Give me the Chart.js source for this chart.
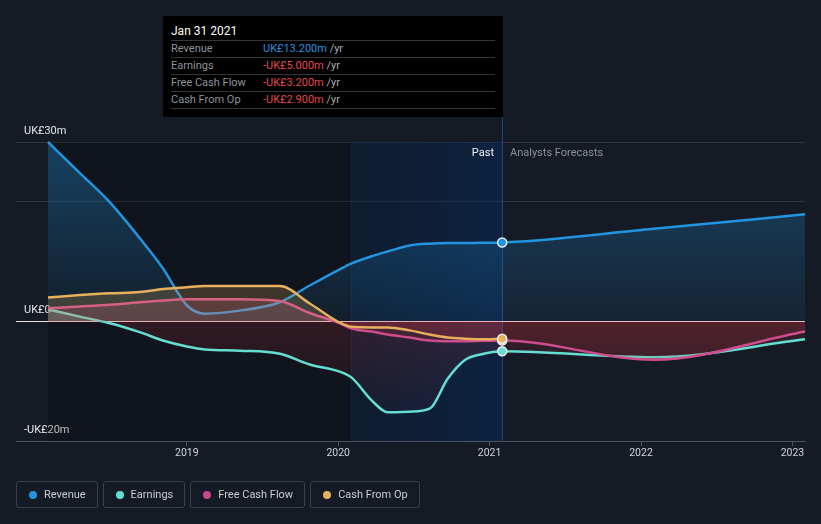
<!DOCTYPE html>
<html>
<head>
<meta charset="utf-8">
<script src="https://cdn.jsdelivr.net/npm/chart.js@4/dist/chart.umd.min.js"></script>
<style>
html,body{margin:0;padding:0;background:#151b25;width:821px;height:524px;overflow:hidden;font-family:Roboto,"Noto Sans",sans-serif;}
#wrap{position:relative;width:821px;height:524px;}
#c{position:absolute;left:0;top:0;}
#tip{position:absolute;left:163px;top:16px;width:340px;height:101px;background:#000;}
#tip .title{position:absolute;left:8px;top:8px;font-size:12px;line-height:14px;color:#fff;}
#tip .row{position:absolute;left:8px;width:324px;height:16px;border-top:1px solid #353535;font-size:11px;line-height:16px;}
#tip .row .lab{position:absolute;left:0;color:#8e939b;}
#tip .row .val{position:absolute;left:92px;}
#tip .row .unit{color:#a9adb3;}
#tip .end{position:absolute;left:8px;width:324px;top:92px;border-top:1px solid #353535;}
.blue{color:#2394df}.red{color:#e5484d}
.lbl{position:absolute;top:146px;font-size:11px;line-height:14px;}
#past{right:327px;color:#f2f2f2;}
#fc{left:510px;color:#8a9099;}
#legend{position:absolute;left:16px;top:481px;display:flex;gap:5px;}
#legend .it{box-sizing:border-box;height:27px;border:1px solid #3a404a;border-radius:3px;padding:0 11px 0 12px;display:flex;align-items:center;font-size:11px;color:#c8ccd2;}
#legend .dot{width:8px;height:8px;border-radius:50%;margin-right:7px;}
</style>
</head>
<body>
<div id="wrap">
<canvas id="c" width="821" height="524"></canvas>
<div id="tip">
  <div class="title">Jan 31 2021</div>
  <div class="row" style="top:24px"><span class="lab">Revenue</span><span class="val"><span class="blue">UK£13.200m</span> <span class="unit">/yr</span></span></div>
  <div class="row" style="top:41px"><span class="lab">Earnings</span><span class="val"><span class="red">-UK£5.000m</span> <span class="unit">/yr</span></span></div>
  <div class="row" style="top:58px"><span class="lab">Free Cash Flow</span><span class="val"><span class="red">-UK£3.200m</span> <span class="unit">/yr</span></span></div>
  <div class="row" style="top:75px"><span class="lab">Cash From Op</span><span class="val"><span class="red">-UK£2.900m</span> <span class="unit">/yr</span></span></div>
  <div class="end"></div>
</div>
<div class="lbl" id="past">Past</div>
<div class="lbl" id="fc">Analysts Forecasts</div>
<div id="legend">
  <div class="it"><span class="dot" style="background:#2394df"></span>Revenue</div>
  <div class="it"><span class="dot" style="background:#65ddd0"></span>Earnings</div>
  <div class="it"><span class="dot" style="background:#c8488b"></span>Free Cash Flow</div>
  <div class="it"><span class="dot" style="background:#e8b05c"></span>Cash From Op</div>
</div>
</div>
<script>
// ---- data (UK£ millions, dates as decimal years) ----
const pastDates = [2018.083, 2018.294, 2018.492, 2018.690, 2018.842, 2019.000, 2019.119, 2019.350, 2019.614, 2019.812,
                   2020.010, 2020.089, 2020.221, 2020.327, 2020.472, 2020.604, 2020.723, 2020.835, 2020.947, 2021.083];
const forecastDates = [2022.083, 2023.083];

const revenuePast  = [30.0, 24.8, 19.9, 13.9, 8.9, 2.7, 1.3, 1.8, 3.2, 6.0, 8.7, 9.7, 10.9, 11.7, 12.7, 13.0, 13.1, 13.1, 13.15, 13.2];
const earningsPast = [2.0, 0.8, -0.3, -1.8, -3.2, -4.2, -4.7, -4.9, -5.4, -7.2, -8.4, -9.4, -13.2, -15.2, -15.1, -14.6, -9.6, -6.5, -5.5, -5.0];
const fcfPast      = [2.2, 2.5, 2.8, 3.2, 3.5, 3.7, 3.7, 3.7, 3.4, 1.4, -0.3, -1.2, -1.7, -2.2, -2.7, -3.2, -3.3, -3.3, -3.25, -3.2];
const cfoPast      = [4.0, 4.4, 4.7, 4.9, 5.4, 5.7, 5.9, 5.9, 5.9, 3.0, -0.2, -0.9, -1.0, -1.0, -1.5, -2.2, -2.7, -2.9, -3.0, -2.9];

const revenueForecast  = [15.5, 17.9];
const earningsForecast = [-6.0, -3.0];
const fcfForecast      = [-6.4, -1.7];

const xTickYears = [2019, 2020, 2021, 2022, 2023];
const yTickLabels = {'30': 'UK£30m', '0': 'UK£0', '-20': '-UK£20m'};

const nowDate = pastDates[pastDates.length - 1];
const bandStart = 2020.083;

// ---- helpers ----
function pts(dates, vals) { return dates.map((d, i) => ({x: d, y: vals[i]})); }

function fillGradient(rgb, aTop, aZero) {
  return (c) => {
    const chart = c.chart;
    const a = chart.chartArea;
    if (!a) return 'transparent';
    const y0 = chart.scales.y.getPixelForValue(0);
    const z = Math.min(1, Math.max(0, (y0 - a.top) / (a.bottom - a.top)));
    const g = chart.ctx.createLinearGradient(0, a.top, 0, a.bottom);
    g.addColorStop(0, 'rgba(' + rgb + ',' + aTop + ')');
    g.addColorStop(z, 'rgba(' + rgb + ',' + aZero + ')');
    g.addColorStop(z, 'rgba(220,50,60,0.16)');
    g.addColorStop(1, 'rgba(220,50,60,0)');
    return g;
  };
}
const markerIdx = pastDates.length - 1;
const markerRadius = (c) => c.dataIndex === markerIdx ? 4.5 : 0;

function series(label, data, color, rgb, aTop, aZero, order) {
  return {
    label, data, order,
    borderColor: color,
    borderWidth: 2.5,
    backgroundColor: fillGradient(rgb, aTop, aZero),
    fill: 'origin',
    cubicInterpolationMode: 'monotone',
    pointRadius: markerRadius,
    pointHoverRadius: 0,
    pointBackgroundColor: color,
    pointBorderColor: 'rgba(255,255,255,0.9)',
    pointBorderWidth: 1.5,
    clip: false
  };
}

const bands = {
  id: 'bands',
  beforeDatasetsDraw(chart) {
    const {ctx, chartArea: a, scales} = chart;
    const x = scales.x;
    const x0 = x.getPixelForValue(pastDates[0]);
    const x1 = x.getPixelForValue(bandStart);
    const x2 = x.getPixelForValue(nowDate);
    ctx.save();
    ctx.fillStyle = 'rgba(0,0,0,0.2)';
    ctx.fillRect(x0, a.top, x1 - x0, a.bottom - a.top);
    const g = ctx.createLinearGradient(x1, 0, x2, 0);
    g.addColorStop(0, 'rgba(5,30,60,0.4)');
    g.addColorStop(1, 'rgba(5,45,100,0.45)');
    ctx.fillStyle = g;
    ctx.fillRect(x1, a.top, x2 - x1, a.bottom - a.top);
    ctx.lineWidth = 1;
    ctx.strokeStyle = 'rgba(40,80,140,0.15)';
    ctx.beginPath();
    ctx.moveTo(Math.round(x1) + 0.5, a.top);
    ctx.lineTo(Math.round(x1) + 0.5, a.bottom);
    ctx.stroke();
    ctx.strokeStyle = '#1c4677';
    ctx.beginPath();
    ctx.moveTo(Math.round(x2) + 0.5, 116);
    ctx.lineTo(Math.round(x2) + 0.5, a.bottom);
    ctx.stroke();
    const y0 = Math.round(scales.y.getPixelForValue(0)) + 0.5;
    ctx.strokeStyle = '#ece2e2';
    ctx.beginPath();
    ctx.moveTo(a.left, y0);
    ctx.lineTo(a.right, y0);
    ctx.stroke();
    ctx.restore();
  }
};

new Chart(document.getElementById('c'), {
  type: 'line',
  data: {
    datasets: [
      series('Revenue', pts(pastDates.concat(forecastDates), revenuePast.concat(revenueForecast)), '#2394df', '35,148,223', 0.35, 0.08, 4),
      series('Earnings', pts(pastDates.concat(forecastDates), earningsPast.concat(earningsForecast)), '#65ddd0', '101,221,208', 0.3, 0.2, 3),
      series('Free Cash Flow', pts(pastDates.concat(forecastDates), fcfPast.concat(fcfForecast)), '#cf4c8d', '207,76,141', 0.3, 0.2, 2),
      series('Cash From Op', pts(pastDates, cfoPast), '#e8b05c', '232,176,92', 0.3, 0.2, 1)
    ]
  },
  plugins: [bands],
  options: {
    responsive: false,
    animation: false,
    devicePixelRatio: 1,
    events: [],
    layout: {padding: {left: 16, right: 16, top: 142, bottom: 63}},
    plugins: {legend: {display: false}, tooltip: {enabled: false}},
    scales: {
      x: {
        type: 'linear',
        min: 2017.872,
        max: 2023.083,
        afterBuildTicks: (s) => { s.ticks = xTickYears.map(v => ({value: v})); },
        afterFit: (s) => { s.height = 20; },
        grid: {drawOnChartArea: false, drawTicks: true, tickLength: 5, tickColor: '#4d525b'},
        border: {color: '#4d525b', width: 1},
        ticks: {color: '#d0d3d8', font: {family: 'Roboto', size: 10.5}, padding: 1, maxRotation: 0, autoSkip: false,
                callback: (v) => String(v)}
      },
      y: {
        min: -20,
        max: 30,
        afterFit: (s) => { s.width = 0; },
        ticks: {stepSize: 10, mirror: true, padding: 8, labelOffset: -11, color: '#e6e6e6',
                font: {family: 'Roboto', size: 11},
                callback: (v) => (yTickLabels[String(v)] !== undefined ? yTickLabels[String(v)] : '')},
        grid: {drawTicks: false, lineWidth: 1,
               color: (c) => (c.tick && (c.tick.value === 30 || c.tick.value === 20)) ? '#2f343d' : 'transparent'},
        border: {display: false}
      }
    }
  }
});
</script>
</body>
</html>
